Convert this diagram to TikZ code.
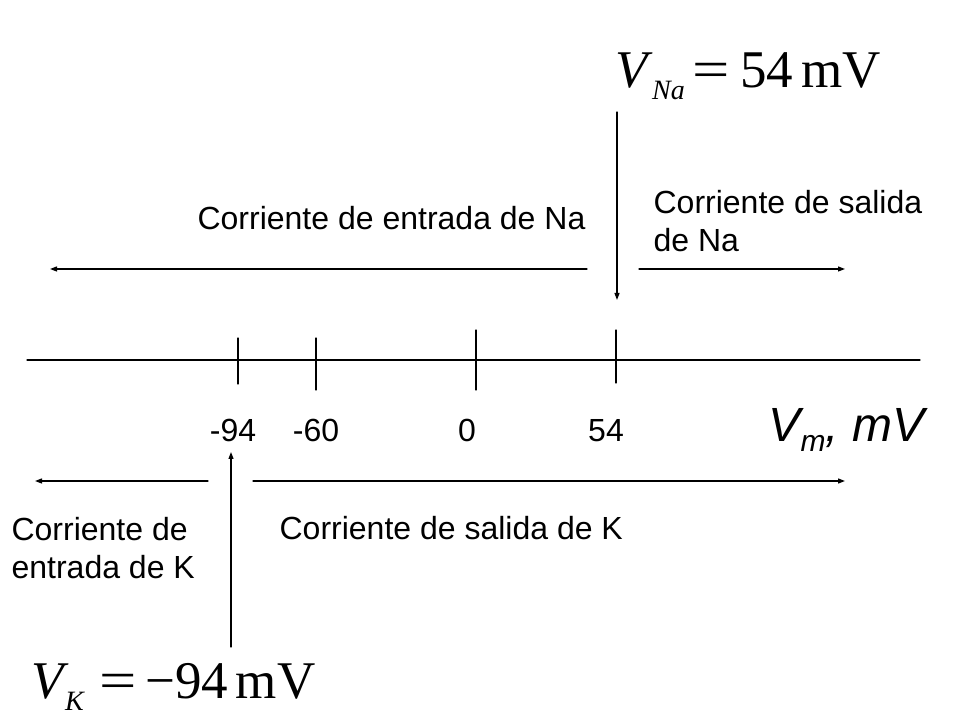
\documentclass[tikz,border=0pt]{standalone}
\usepackage{fontspec}
\setmainfont{Liberation Sans}
\newfontfamily\tmsfont{Liberation Serif}
\usetikzlibrary{arrows.meta}

\tikzset{
  curlabel/.style={font=\fontsize{32}{38}\selectfont, inner sep=0pt,
                   anchor=base west, align=left},
  ticklabel/.style={font=\fontsize{32}{38}\selectfont, inner sep=0pt,
                    anchor=base},
  potlabel/.style={font=\tmsfont\fontsize{53}{53}\selectfont, inner sep=0pt,
                   anchor=base west},
}
\newcommand{\potsub}[1]{\raisebox{-12pt}{\fontsize{28}{28}\selectfont\itshape #1}}
\newcommand{\poteq}{\scalebox{1.25}[1]{=}}

\begin{document}
\begin{tikzpicture}[x=1pt, y=1pt, >={Triangle[length=7pt,width=5pt]},
                    line cap=round, line width=1.2pt]
\useasboundingbox (0,0) rectangle (960,720);

\coordinate (axL) at (27,360);
\coordinate (axR) at (920,360);
\draw (axL) -- (axR);

\foreach \nm/\xt/\yb/\yt/\xl/\val in {a/238/336/382/233/-94,
                                      b/316/330/382/316/-60,
                                      c/476/330/390/467/0,
                                      d/616/337/390/606/54}{
    \coordinate (t\nm b) at (\xt,\yb);
    \coordinate (t\nm t) at (\xt,\yt);
    \draw (t\nm b) -- (t\nm t);
    \node [ticklabel] (l\nm) at (\xl,278) {\val};
}

\node [anchor=base west, inner sep=0pt, font=\fontsize{48}{48}\selectfont\itshape]
    (vm) at (768,278) {V\raisebox{-10pt}{\fontsize{30}{30}\selectfont m}, mV};

\node [potlabel] (vna) at (615,632)
    {\textit{V}\kern-1pt\potsub{Na}\kern8pt\poteq\kern10pt 54\kern8pt mV};
\node [potlabel] (vk) at (31,22)
    {\textit{V}\kern-4pt\potsub{K}\kern16pt\poteq\kern8pt −94\kern8pt mV};

\node [curlabel] (naIn) at (197,490) {Corriente de entrada de Na};
\node [curlabel] (naOut) at (653,468) {Corriente de salida\\de Na};
\node [curlabel] (kIn) at (11,142) {Corriente de\\entrada de K};
\node [curlabel] (kOut) at (279,180) {Corriente de salida de K};

\coordinate (naInA) at (587,451);
\coordinate (naInB) at (50,451);
\coordinate (naOutA) at (639,451);
\coordinate (naOutB) at (845,451);
\coordinate (naTop) at (617,608);
\coordinate (naBot) at (617,420);
\draw [->] (naInA) -- (naInB);
\draw [->] (naOutA) -- (naOutB);
\draw [->] (naTop) -- (naBot);

\coordinate (kInA) at (208,239);
\coordinate (kInB) at (35,239);
\coordinate (kOutA) at (253,239);
\coordinate (kOutB) at (845,239);
\coordinate (kBot) at (231,73);
\coordinate (kTop) at (231,268);
\draw [->] (kInA) -- (kInB);
\draw [->] (kOutA) -- (kOutB);
\draw [->] (kBot) -- (kTop);
\end{tikzpicture}
\end{document}
